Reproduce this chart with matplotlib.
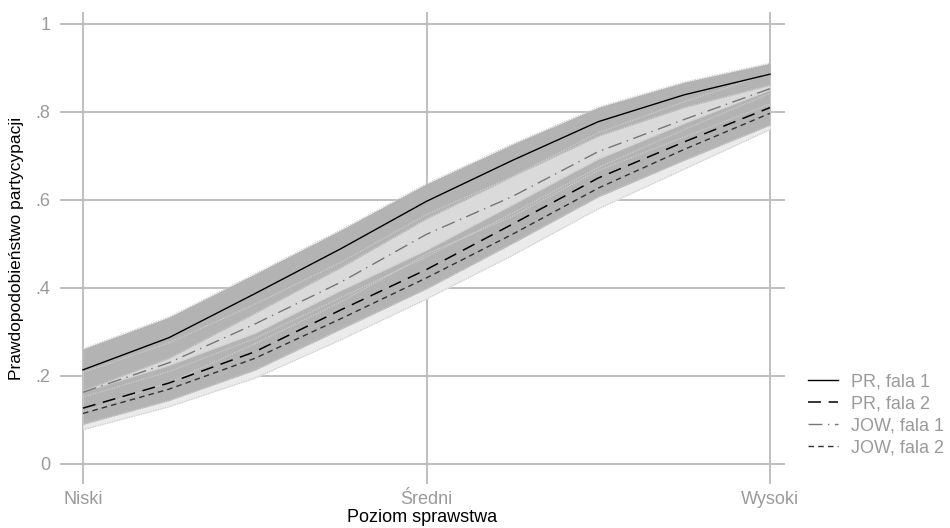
import matplotlib
matplotlib.use("Agg")
import matplotlib.pyplot as plt
from matplotlib.lines import Line2D

# ---- data ----
levels = [0, 0.25, 0.5, 0.75, 1.0, 1.25, 1.5, 1.75, 2.0]
tick_pos = [0, 1, 2]
tick_labels = ["Niski", "Średni", "Wysoki"]
y_ticks = [0, 0.2, 0.4, 0.6, 0.8, 1.0]
y_tick_labels = ["0", ".2", ".4", ".6", ".8", "1"]

pr1 = [0.214, 0.287, 0.387, 0.489, 0.597, 0.690, 0.778, 0.839, 0.886]
pr1_lo = [0.166, 0.240, 0.342, 0.446, 0.557, 0.653, 0.745, 0.810, 0.861]
pr1_hi = [0.262, 0.334, 0.432, 0.532, 0.637, 0.727, 0.811, 0.868, 0.911]

pr2 = [0.127, 0.184, 0.255, 0.350, 0.442, 0.545, 0.650, 0.732, 0.810]
pr2_lo = [0.090, 0.144, 0.213, 0.306, 0.398, 0.501, 0.607, 0.690, 0.770]
pr2_hi = [0.164, 0.224, 0.297, 0.394, 0.486, 0.589, 0.693, 0.774, 0.850]

jow1 = [0.163, 0.230, 0.318, 0.413, 0.522, 0.608, 0.710, 0.783, 0.853]
jow1_lo = [0.118, 0.185, 0.273, 0.368, 0.477, 0.563, 0.667, 0.743, 0.818]
jow1_hi = [0.208, 0.275, 0.363, 0.458, 0.567, 0.653, 0.753, 0.823, 0.888]

jow2 = [0.115, 0.170, 0.240, 0.330, 0.423, 0.522, 0.627, 0.715, 0.797]
jow2_lo = [0.078, 0.130, 0.195, 0.282, 0.375, 0.474, 0.580, 0.670, 0.760]
jow2_hi = [0.152, 0.210, 0.285, 0.378, 0.471, 0.570, 0.674, 0.760, 0.842]

series_labels = ["PR, fala 1", "PR, fala 2", "JOW, fala 1", "JOW, fala 2"]

plt.rcParams['font.family'] = ['Liberation Sans', 'DejaVu Sans']

fig = plt.figure(figsize=(9.5, 5.28), dpi=100)
ax = fig.add_axes([60/950, 1-484/528, (785-60)/950, (484-12)/528])

DARK = '#b3b3b3'
LIGHT = '#dadada'
VLIGHT = '#ebebeb'
EDGE = '#cdcdcd'

# bands: light first, then dark
ax.fill_between(levels, jow2_lo, jow2_hi, color=VLIGHT, lw=0, zorder=2)
ax.fill_between(levels, jow1_lo, jow1_hi, color=LIGHT, lw=0, zorder=2)
ax.fill_between(levels, pr1_lo, pr1_hi, color=DARK, lw=0, zorder=3)
ax.fill_between(levels, pr2_lo, pr2_hi, color=DARK, lw=0, zorder=3)

for lo, hi in [(jow1_lo, jow1_hi), (jow2_lo, jow2_hi), (pr1_lo, pr1_hi), (pr2_lo, pr2_hi)]:
    ax.plot(levels, lo, color=EDGE, lw=0.9, ls=(0, (1, 1)), zorder=4)
    ax.plot(levels, hi, color=EDGE, lw=0.9, ls=(0, (1, 1)), zorder=4)

styles = [
    dict(color='black', lw=1.0, ls='-'),
    dict(color='black', lw=1.1, ls=(0, (8.5, 5))),
    dict(color='#767676', lw=1.0, ls=(0, (10, 4, 1, 4))),
    dict(color='#333333', lw=1.0, ls=(0, (4, 3))),
]
for ys, st in zip([pr1, pr2, jow1, jow2], styles):
    ax.plot(levels, ys, zorder=5, **st)

ax.set_xlim(-23/343.5, 2 + 15/343.5)
ax.set_ylim(-20/440, 1 + 12/440)
ax.set_xticks(tick_pos)
ax.set_xticklabels(tick_labels)
ax.set_yticks(y_ticks)
ax.set_yticklabels(y_tick_labels)
ax.grid(True, color='#bfbfbf', lw=1.4)
ax.set_axisbelow(True)
for s in ax.spines.values():
    s.set_visible(False)
ax.tick_params(axis='both', length=0, colors='#9a9a9a', labelsize=13)
ax.tick_params(axis='y', pad=7)
ax.tick_params(axis='x', pad=5)
ax.set_xlabel("Poziom sprawstwa", fontsize=13, color='black', labelpad=1)
ax.set_ylabel("Prawdopodobieństwo partycypacji", fontsize=12.5, color='black', labelpad=8)

handles = [Line2D([0], [0], **st) for st in styles]
leg = fig.legend(handles, series_labels, loc='center left',
                 bbox_to_anchor=(808/950, 1-415/528), frameon=False,
                 fontsize=13, handlelength=1.66, handletextpad=0.72,
                 labelspacing=0.27, borderaxespad=0, borderpad=0)
for t in leg.get_texts():
    t.set_color('#9a9a9a')

fig.savefig("out.png", dpi=100)
